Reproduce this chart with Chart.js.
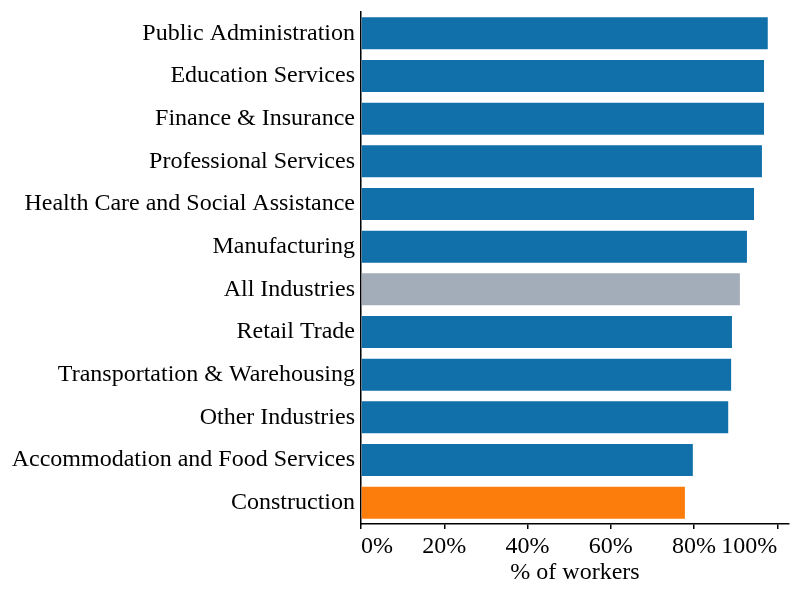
<!DOCTYPE html>
<html>
<head>
<meta charset="utf-8">
<script src="https://cdn.jsdelivr.net/npm/chart.js@4"></script>
<style>
  html, body { margin: 0; padding: 0; background: #fff; }
  #wrap { width: 800px; height: 600px; }
</style>
</head>
<body>
<div id="wrap"><canvas id="chart" width="800" height="600"></canvas></div>
<script>
const industries = [
  "Public Administration",
  "Education Services",
  "Finance & Insurance",
  "Professional Services",
  "Health Care and Social Assistance",
  "Manufacturing",
  "All Industries",
  "Retail Trade",
  "Transportation & Warehousing",
  "Other Industries",
  "Accommodation and Food Services",
  "Construction"
];
const shareOfWorkers = [97.7, 96.8, 96.8, 96.3, 94.4, 92.7, 91.0, 89.1, 88.9, 88.2, 79.7, 77.8];
const barColors = industries.map(n =>
  n === "All Industries" ? "#A3ACB9" : n === "Construction" ? "#FC7D0B" : "#1170AA");

const serif = "'Liberation Serif', 'Times New Roman', serif";

new Chart(document.getElementById("chart"), {
  type: "bar",
  data: {
    labels: industries,
    datasets: [{
      data: shareOfWorkers,
      backgroundColor: barColors,
      borderWidth: 0,
      barPercentage: 0.75,
      categoryPercentage: 1.0
    }]
  },
  options: {
    indexAxis: "y",
    responsive: false,
    animation: false,
    layout: { padding: { top: 12, right: 11, left: 0, bottom: 13 } },
    plugins: { legend: { display: false }, tooltip: { enabled: false } },
    scales: {
      x: {
        min: 0,
        max: 102.8,
        afterFit: s => { s.height = 63; },
        border: { display: true, color: "#000", width: 1.5 },
        grid: { drawOnChartArea: false, drawTicks: true, tickLength: 5, color: "#000", lineWidth: 1.5 },
        ticks: {
          stepSize: 20,
          includeBounds: false,
          align: "inner",
          maxRotation: 0,
          padding: 3,
          color: "#000",
          font: { family: serif, size: 24 },
          callback: v => v + "%"
        },
        title: {
          display: true,
          text: "% of workers",
          color: "#000",
          padding: { top: 0, bottom: 0 },
          font: { family: serif, size: 24 }
        }
      },
      y: {
        afterFit: s => { s.width = 361; },
        border: { display: true, color: "#000", width: 1.5 },
        grid: { display: false, drawTicks: false },
        ticks: {
          padding: 6,
          color: "#000",
          autoSkip: false,
          font: { family: serif, size: 24, lineHeight: 0.5 }
        }
      }
    }
  }
});
</script>
</body>
</html>
